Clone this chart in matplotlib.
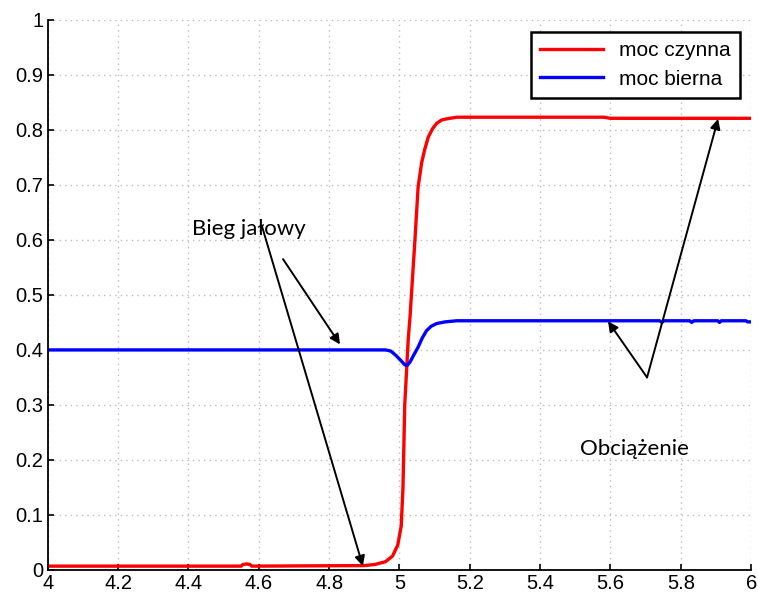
import numpy as np
from matplotlib import pyplot as plt

# moc czynna (czerwona)
t_p = [4.0, 4.55, 4.555, 4.565, 4.575, 4.58, 4.9, 4.93, 4.96, 4.98, 4.995, 5.005, 5.01,
       5.015, 5.02, 5.025, 5.03, 5.035, 5.044, 5.053, 5.063, 5.072, 5.082, 5.094, 5.106,
       5.12, 5.134, 5.163, 5.58, 5.6, 6.0]
p = [0.007, 0.007, 0.01, 0.011, 0.01, 0.007, 0.008, 0.01, 0.015, 0.025, 0.045, 0.08, 0.15,
     0.3, 0.36, 0.42, 0.46, 0.51, 0.6, 0.696, 0.74, 0.765, 0.787, 0.802, 0.812,
     0.818, 0.82, 0.823, 0.823, 0.821, 0.821]

# moc bierna (niebieska)
t_q = [4.0, 4.96, 4.975, 4.99, 5.005, 5.015, 5.022, 5.03, 5.04, 5.053, 5.065, 5.077, 5.09,
       5.106, 5.13, 5.163, 5.74, 5.746, 5.752, 5.825, 5.831, 5.837, 5.905, 5.91, 5.915,
       5.985, 5.99, 6.0]
q = [0.4, 0.4, 0.398, 0.39, 0.38, 0.373, 0.372, 0.378, 0.39, 0.405, 0.422, 0.435, 0.443,
     0.448, 0.451, 0.453, 0.453, 0.45, 0.453, 0.453, 0.45, 0.453, 0.453, 0.45, 0.453,
     0.453, 0.451, 0.451]

xticks = np.round(np.arange(4, 6.01, 0.2), 1)
yticks = np.round(np.arange(0, 1.01, 0.1), 1)

def lab(v):
    return '{:g}'.format(v)

plt.rcParams['font.family'] = ['Liberation Sans', 'DejaVu Sans']

fig = plt.figure(figsize=(7.58, 6.01), dpi=100)
ax = fig.add_axes([0.063, 0.0516, 0.928, 0.9154])

ax.plot(t_p, p, color='red', lw=2.4, label='moc czynna')
ax.plot(t_q, q, color='blue', lw=2.4, label='moc bierna')

ax.set_xlim(4, 6)
ax.set_ylim(0, 1)
ax.set_xticks(xticks)
ax.set_xticklabels([lab(v) for v in xticks])
ax.set_yticks(yticks)
ax.set_yticklabels([lab(v) for v in yticks])
ax.tick_params(labelsize=14.5, direction='in', length=4, width=1.2, pad=3)
ax.grid(True, linestyle=(0, (1, 3)), color='#bdbdbd', lw=1)
ax.spines['top'].set_visible(False)
ax.spines['right'].set_visible(False)
ax.spines['left'].set_linewidth(1.3)
ax.spines['bottom'].set_linewidth(1.3)

leg = ax.legend(loc='upper right', fontsize=15, fancybox=False, framealpha=1,
                edgecolor='black', borderaxespad=0, handlelength=3.0,
                borderpad=0.45, labelspacing=0.45,
                bbox_to_anchor=(0.9844, 0.978))
leg.get_frame().set_linewidth(1.8)

cal = ['Lato', 'DejaVu Sans']
ax.text(4.41, 0.62, 'Bieg jałowy', fontsize=16, family=cal, ha='left', va='center')
ax.text(5.513, 0.22, 'Obciążenie', fontsize=16, family=cal, ha='left', va='center')

arr = dict(arrowstyle='-|>', color='black', lw=1.4, mutation_scale=15, shrinkA=0, shrinkB=0)
ax.annotate('', xy=(4.896, 0.007), xytext=(4.609, 0.625), arrowprops=arr)
ax.annotate('', xy=(4.831, 0.41), xytext=(4.669, 0.565), arrowprops=arr)
ax.annotate('', xy=(5.906, 0.82), xytext=(5.704, 0.35), arrowprops=arr)
ax.annotate('', xy=(5.593, 0.452), xytext=(5.704, 0.35), arrowprops=arr)

fig.savefig('out.png', dpi=100)
